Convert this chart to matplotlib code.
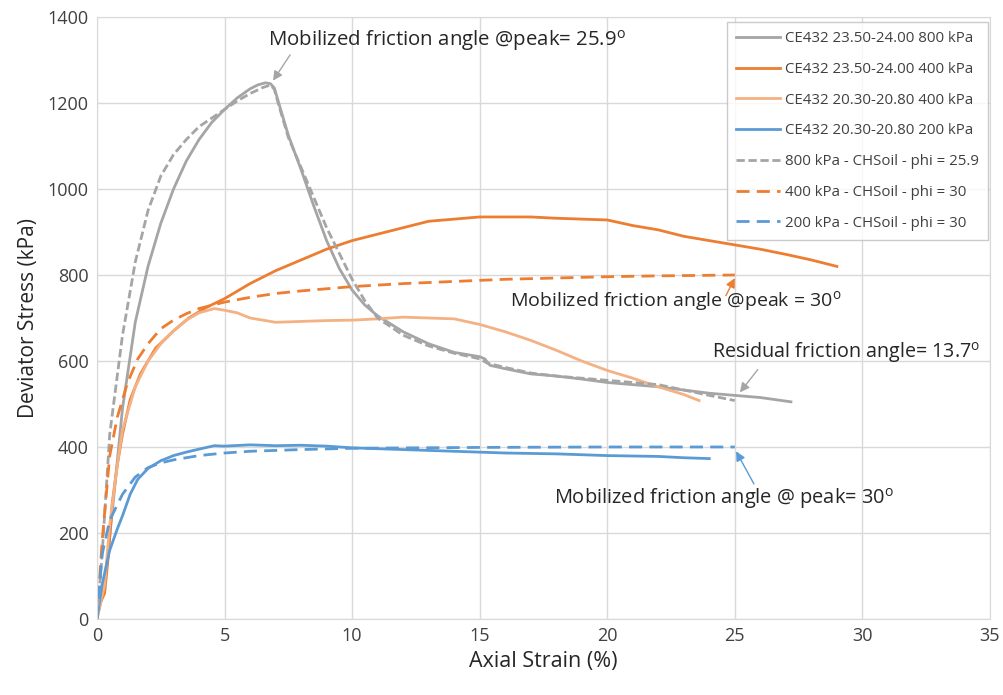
import matplotlib
matplotlib.use("Agg")
import matplotlib.pyplot as plt

plt.rcParams['font.family'] = ['Open Sans', 'DejaVu Sans']

# ---- data ----
g800_x = [0, 0.3, 0.6, 1.0, 1.5, 2.0, 2.5, 3.0, 3.5, 4.0, 4.5, 5.0, 5.5, 6.0, 6.3, 6.6, 6.8, 6.95, 7.1, 7.3, 7.5,
          8.0, 8.5, 9.0, 9.5, 10.0, 10.5, 11.0, 12.0, 13.0, 14.0, 15.0, 15.2, 15.4, 16.0, 17.0, 18.0, 19.0, 20.0,
          22.0, 24.0, 26.0, 27.2]
g800_y = [0, 80, 250, 490, 690, 820, 920, 1000, 1065, 1115, 1155, 1185, 1212, 1233, 1242, 1247, 1245, 1235, 1205,
          1165, 1125, 1045, 960, 880, 815, 765, 730, 705, 668, 640, 620, 610, 605, 590, 582, 570, 565, 558, 550,
          540, 525, 515, 505]

o400_x = [0, 0.3, 0.45, 0.6, 0.8, 1.0, 1.3, 1.7, 2.3, 3.0, 3.6, 4.3, 5, 6, 7, 8, 9, 10, 11, 12, 13, 14, 15, 16,
          17, 18, 19, 20, 21, 22, 23, 24, 25, 26, 27, 28, 29]
o400_y = [20, 60, 150, 270, 360, 430, 510, 570, 630, 670, 700, 725, 745, 780, 810, 835, 860, 880, 895, 910, 925,
          930, 935, 935, 935, 932, 930, 928, 915, 905, 890, 880, 870, 860, 848, 835, 820]

lo400_x = [0, 0.3, 0.5, 0.8, 1, 1.5, 2, 2.5, 3, 3.5, 4, 4.6, 5, 5.5, 6, 7, 8, 9, 10, 11, 12, 13, 14, 15, 16, 17,
           18, 19, 20, 21, 22, 23, 23.6]
lo400_y = [0, 80, 220, 360, 440, 540, 600, 640, 670, 695, 712, 722, 718, 712, 700, 690, 692, 694, 695, 698, 702,
           700, 698, 685, 668, 648, 625, 600, 578, 560, 540, 522, 508]

b200_x = [0, 0.2, 0.5, 0.8, 1, 1.3, 1.6, 2, 2.5, 3, 3.5, 4, 4.6, 5, 6, 7, 8, 9, 10, 11, 12, 14, 16, 18, 20, 22,
          23, 24]
b200_y = [0, 80, 160, 210, 240, 290, 325, 350, 368, 380, 388, 395, 403, 402, 405, 403, 404, 402, 398, 396, 394,
          390, 386, 384, 380, 378, 375, 373]

m800_x = [0, 0.2, 0.5, 1.0, 1.5, 2, 2.5, 3, 3.5, 4, 5, 5.5, 6, 6.5, 6.8, 6.95, 7.1, 7.3, 7.5, 8, 8.5, 9, 9.5, 10,
          10.5, 11, 12, 13, 14, 15, 15.3, 16, 17, 18, 20, 22, 24, 25]
m800_y = [0, 150, 430, 660, 830, 950, 1030, 1080, 1115, 1145, 1185, 1205, 1222, 1236, 1242, 1232, 1200, 1160,
          1120, 1050, 980, 910, 850, 790, 740, 700, 660, 635, 618, 605, 595, 585, 572, 565, 555, 545, 520, 508]

m400_x = [0, 0.2, 0.5, 0.8, 1.2, 1.6, 2, 2.5, 3, 3.5, 4, 5, 6, 7, 8, 9, 10, 12, 14, 16, 18, 20, 22, 25]
m400_y = [0, 180, 380, 470, 550, 605, 640, 675, 695, 710, 722, 737, 748, 757, 763, 768, 773, 780, 785, 790, 793,
          796, 798, 800]

m200_x = [0, 0.2, 0.5, 1, 1.5, 2, 2.5, 3, 4, 5, 6, 8, 10, 15, 20, 25]
m200_y = [0, 150, 230, 290, 330, 352, 363, 370, 380, 386, 390, 394, 397, 399, 400, 400]

labels = ["CE432 23.50-24.00 800 kPa", "CE432 23.50-24.00 400 kPa", "CE432 20.30-20.80 400 kPa",
          "CE432 20.30-20.80 200 kPa", "800 kPa - CHSoil - phi = 25.9", "400 kPa - CHSoil - phi = 30",
          "200 kPa - CHSoil - phi = 30"]

GRAY = '#A5A5A5'
ORANGE = '#ED7D31'
LORANGE = '#F4B183'
BLUE = '#5B9BD5'

fig = plt.figure(figsize=(10.04, 6.95), dpi=100)
ax = fig.add_axes([0.0966, 0.1094, 0.8894, 0.8661])

lw = 2.0
ax.plot(g800_x, g800_y, color=GRAY, lw=lw, label=labels[0])
ax.plot(o400_x, o400_y, color=ORANGE, lw=lw, label=labels[1])
ax.plot(lo400_x, lo400_y, color=LORANGE, lw=lw, label=labels[2])
ax.plot(b200_x, b200_y, color=BLUE, lw=lw, label=labels[3])
ax.plot(m800_x, m800_y, color=GRAY, lw=lw, ls=(0, (3, 1.3)), label=labels[4])
ax.plot(m400_x, m400_y, color=ORANGE, lw=lw, ls=(0, (4.7, 2.6)), label=labels[5])
ax.plot(m200_x, m200_y, color=BLUE, lw=lw, ls=(0, (4.7, 2.6)), label=labels[6])

ax.set_xlim(0, 35)
ax.set_ylim(0, 1400)
ax.set_xticks(range(0, 36, 5))
ax.set_yticks(range(0, 1401, 200))
ax.grid(True, color='#D9D9D9', lw=1)
ax.set_axisbelow(True)
for s in ax.spines.values():
    s.set_color('#D9D9D9')
ax.tick_params(length=0, labelsize=13, colors='#404040', pad=6)
ax.set_xlabel("Axial Strain (%)", fontsize=15.5, color='#262626', labelpad=4)
ax.set_ylabel("Deviator Stress (kPa)", fontsize=15, color='#262626', labelpad=6)

leg = ax.legend(loc='upper right', bbox_to_anchor=(0.9978, 0.9917), borderaxespad=0, fontsize=10.8,
                handlelength=2.9, frameon=True, fancybox=False, edgecolor='#BFBFBF', labelspacing=1.05,
                borderpad=0.6, handletextpad=0.35)
leg.get_frame().set_linewidth(1.0)
for t in leg.get_texts():
    t.set_color('#404040')

deg = r"$^\mathregular{o}$"
ax.text(6.7, 1346, "Mobilized friction angle @peak= 25.9" + deg, fontsize=14.7, color='#262626',
        va='center', ha='left')
ax.text(16.2, 737, "Mobilized friction angle @peak = 30" + deg, fontsize=14.0, color='#262626',
        va='center', ha='left')
ax.text(24.1, 619, "Residual friction angle= 13.7" + deg, fontsize=14.2, color='#262626',
        va='center', ha='left')
ax.text(17.9, 281, "Mobilized friction angle @ peak= 30" + deg, fontsize=14.4, color='#262626',
        va='center', ha='left')

def arrow(x0, y0, x1, y1, c):
    ax.annotate("", xy=(x1, y1), xytext=(x0, y0),
                arrowprops=dict(arrowstyle='-|>', color=c, lw=1, shrinkA=0, shrinkB=0,
                                mutation_scale=14))

arrow(7.57, 1312, 6.9, 1252, GRAY)
arrow(24.65, 752, 25.0, 793, ORANGE)
arrow(25.9, 580, 25.2, 527, GRAY)
arrow(25.75, 314, 25.05, 390, BLUE)

fig.savefig("out.png", dpi=100)
